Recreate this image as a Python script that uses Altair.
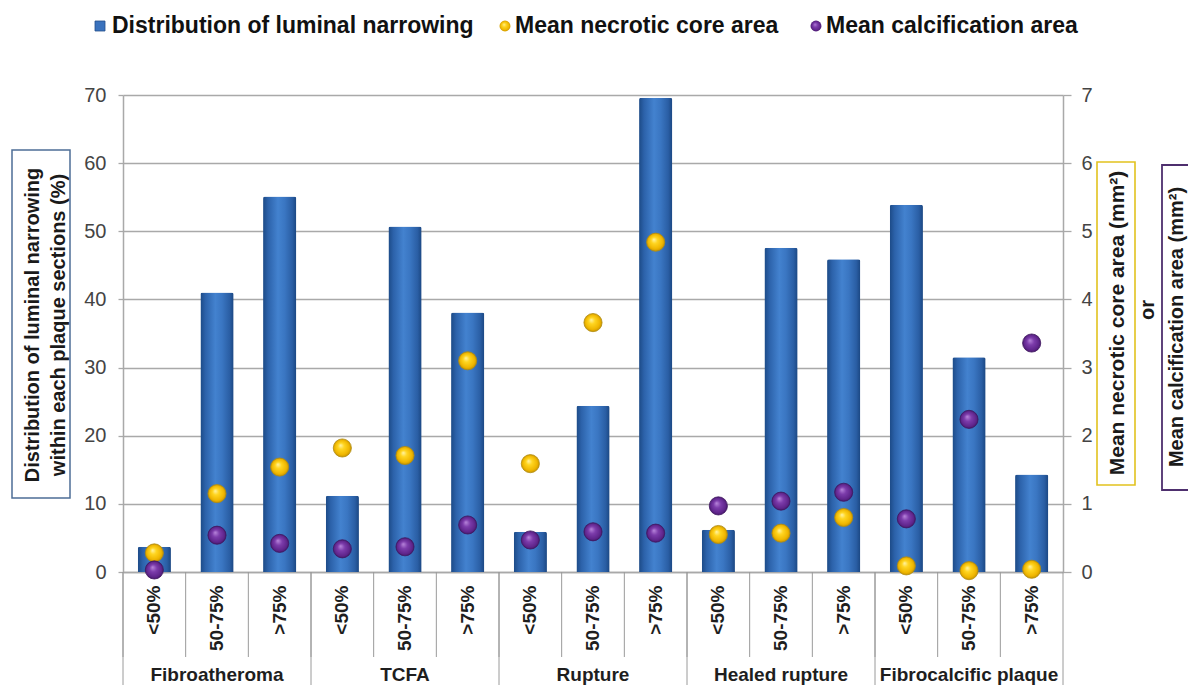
import altair as alt
import pandas as pd

# ---------------- data ----------------
GROUPS = ["Fibroatheroma", "TCFA", "Rupture", "Healed rupture", "Fibrocalcific plaque"]
SUBS = ["<50%", "50-75%", ">75%"]
NARROWING = [3.7, 41.0, 55.1, 11.2, 50.7, 38.1, 5.9, 24.4, 69.6, 6.2, 47.6, 45.9, 53.9, 31.5, 14.3]
NECROTIC = [0.28, 1.15, 1.54, 1.82, 1.71, 3.10, 1.59, 3.66, 4.84, 0.55, 0.57, 0.80, 0.09, 0.02, 0.04]
CALCIF = [0.03, 0.54, 0.42, 0.34, 0.37, 0.69, 0.47, 0.59, 0.57, 0.97, 1.04, 1.17, 0.78, 2.24, 3.36]
SERIES = ["Distribution of luminal narrowing", "Mean necrotic core area", "Mean calcification area"]
LEFT_TITLE = ["Distribution of luminal narrowing", "within each plaque sections (%)"]
RIGHT_TITLE_1 = "Mean necrotic core area (mm²)"
RIGHT_OR = "or"
RIGHT_TITLE_2 = "Mean calcification area (mm²)"
LEFT_TICKS = [0, 10, 20, 30, 40, 50, 60, 70]
RIGHT_TICKS = [0, 1, 2, 3, 4, 5, 6, 7]

KEYS = [f"{g}|{s}" for g in GROUPS for s in SUBS]
df = pd.DataFrame({
    "key": KEYS,
    "group": [g for g in GROUPS for s in SUBS],
    "sub": [s for g in GROUPS for s in SUBS],
    "narrowing": NARROWING,
    "necrotic": NECROTIC,
    "calcif": CALCIF,
})
groups_df = pd.DataFrame({"group": GROUPS, "key": [f"{g}|{SUBS[1]}" for g in GROUPS]})
group_start_df = pd.DataFrame({"key": [f"{g}|{SUBS[0]}" for g in GROUPS]})
last_df = pd.DataFrame({"key": [KEYS[-1]]})

W, H = 940, 477
FONT = "Liberation Sans"
GRID = "#a9a9a9"

xscale = alt.Scale(domain=KEYS, paddingInner=0, paddingOuter=0)
x_axis = alt.Axis(
    labelExpr="split(datum.label, '|')[1]", labelAngle=-90, labelAlign="right",
    labelBaseline="middle", ticks=False, labelPadding=13, labelFontSize=19,
    labelFontWeight="bold", labelColor="#1e1e1e", domainColor=GRID, domainWidth=1.5,
    title=None, grid=False, labelFont=FONT,
)

def xenc(**kw):
    return alt.X("key:N", sort=KEYS, scale=xscale, axis=x_axis, **kw)

bar_grad = alt.Gradient(
    gradient="linear", x1=0, x2=1, y1=0, y2=0,
    stops=[
        alt.GradientStop(color="#1c4a86", offset=0),
        alt.GradientStop(color="#2c62aa", offset=0.15),
        alt.GradientStop(color="#4382cf", offset=0.45),
        alt.GradientStop(color="#3a76c2", offset=0.65),
        alt.GradientStop(color="#2a5ea4", offset=0.88),
        alt.GradientStop(color="#1b4782", offset=1),
    ],
)
yellow_grad = alt.Gradient(
    gradient="radial", x1=0.4, y1=0.35, r1=0, x2=0.5, y2=0.5, r2=0.5,
    stops=[
        alt.GradientStop(color="#fff4a8", offset=0),
        alt.GradientStop(color="#ffd520", offset=0.35),
        alt.GradientStop(color="#efb600", offset=0.8),
        alt.GradientStop(color="#c99500", offset=1),
    ],
)
purple_grad = alt.Gradient(
    gradient="radial", x1=0.4, y1=0.35, r1=0, x2=0.5, y2=0.5, r2=0.5,
    stops=[
        alt.GradientStop(color="#b987dc", offset=0),
        alt.GradientStop(color="#7c3cab", offset=0.4),
        alt.GradientStop(color="#5e248a", offset=0.85),
        alt.GradientStop(color="#461869", offset=1),
    ],
)

base = alt.Chart(df)

bars = base.mark_bar(
    width=alt.RelativeBandSize(0.53), color=bar_grad,
    cornerRadiusTopLeft=2, cornerRadiusTopRight=2,
).encode(
    x=xenc(),
    y=alt.Y("narrowing:Q", scale=alt.Scale(domain=[0, 70]),
            axis=alt.Axis(values=LEFT_TICKS, orient="left", title=None, grid=True,
                          gridColor=GRID, gridWidth=1.3, domainColor=GRID, domainWidth=1.5,
                          tickColor=GRID, tickSize=5, tickWidth=1.3, labelPadding=12,
                          labelFontSize=20, labelColor="#444444", labelFont=FONT)),
)

right_axis = alt.Axis(values=RIGHT_TICKS, orient="right", title=None, grid=False,
                      domainColor=GRID, domainWidth=1.5, tickColor=GRID, tickSize=8,
                      tickWidth=1.3, labelPadding=10, labelFontSize=20,
                      labelColor="#444444", labelFont=FONT)
rscale = alt.Scale(domain=[0, 7])

yellow = base.mark_circle(size=330, fill=yellow_grad, opacity=1,
                          stroke="#b08c10", strokeWidth=0.8).encode(
    x=xenc(), y=alt.Y("necrotic:Q", scale=rscale, axis=right_axis))
purple = base.mark_circle(size=330, fill=purple_grad, opacity=1,
                          stroke="#3f1560", strokeWidth=0.8).encode(
    x=xenc(), y=alt.Y("calcif:Q", scale=rscale, axis=right_axis))
points = alt.layer(yellow, purple)

# category separators below the axis
sub_rules = base.mark_rule(color="#9a9a9a", strokeWidth=1).encode(
    x=xenc(bandPosition=0), y=alt.value(H), y2=alt.value(H + 85))
group_rules = alt.Chart(group_start_df).mark_rule(color="#9a9a9a", strokeWidth=1).encode(
    x=xenc(bandPosition=0), y=alt.value(H), y2=alt.value(H + 115))
end_rule = alt.Chart(last_df).mark_rule(color="#9a9a9a", strokeWidth=1).encode(
    x=xenc(bandPosition=1), y=alt.value(H), y2=alt.value(H + 115))
group_text = alt.Chart(groups_df).mark_text(
    fontSize=19, fontWeight="bold", font=FONT, color="#1e1e1e", baseline="alphabetic"
).encode(x=xenc(), y=alt.value(H + 109), text="group:N")

# axis title boxes
one = pd.DataFrame({"a": [0]})
def box(x1, x2, y1, y2, color, sw):
    return alt.Chart(one).mark_rect(filled=False, color=color, strokeWidth=sw).encode(
        x=alt.value(x1), x2=alt.value(x2), y=alt.value(y1), y2=alt.value(y2))

def vtext(txt, x, y, size=20):
    return alt.Chart(pd.DataFrame({"t": [txt]})).mark_text(
        angle=270, fontSize=size, fontWeight="bold", font=FONT, color="#1a1a1a",
        align="center", baseline="middle").encode(
        x=alt.value(x), y=alt.value(y), text="t:N")

left_box = box(-111, -53, 55, 403, "#4d6e96", 1.5)
left_t1 = vtext(LEFT_TITLE[0], -90, 230)
left_t2 = vtext(LEFT_TITLE[1], -64, 230)
yel_box = box(974, 1012, 67, 390, "#e2c21e", 1.6)
right_t1 = vtext(RIGHT_TITLE_1, 995, 228, 21)
right_or = vtext(RIGHT_OR, 1025, 215, 20)
pur_box = box(1039, 1080, 70, 395, "#4e2f6e", 1.8)
right_t2 = vtext(RIGHT_TITLE_2, 1054, 232, 20)

# legend
def leg_text(txt, x):
    return alt.Chart(pd.DataFrame({"t": [txt]})).mark_text(
        fontSize=23, fontWeight="bold", font=FONT, color="#111111",
        align="left", baseline="middle").encode(
        x=alt.value(x), y=alt.value(-69), text="t:N")

leg_sq = alt.Chart(one).mark_square(size=100, fill="#3a72bd", opacity=1,
                                    stroke="#244f8a", strokeWidth=0.8).encode(
    x=alt.value(-23), y=alt.value(-69))
leg_y = alt.Chart(one).mark_circle(size=120, fill=yellow_grad, opacity=1).encode(
    x=alt.value(382), y=alt.value(-69))
leg_p = alt.Chart(one).mark_circle(size=120, fill=purple_grad, opacity=1).encode(
    x=alt.value(693), y=alt.value(-69))
leg = [leg_sq, leg_text(SERIES[0], -11), leg_y, leg_text(SERIES[1], 392),
       leg_p, leg_text(SERIES[2], 703)]

chart = alt.layer(
    bars, points, sub_rules, group_rules, end_rule, group_text,
    left_box, left_t1, left_t2, yel_box, right_t1, right_or, pur_box, right_t2,
    *leg,
).resolve_scale(y="independent").properties(
    width=W, height=H, autosize="none",
    padding={"left": 115, "top": 87, "right": 125, "bottom": 113},
).configure(font=FONT).configure_view(stroke=None)

chart.save("out.html", embed_options={"renderer": "svg", "actions": False})
